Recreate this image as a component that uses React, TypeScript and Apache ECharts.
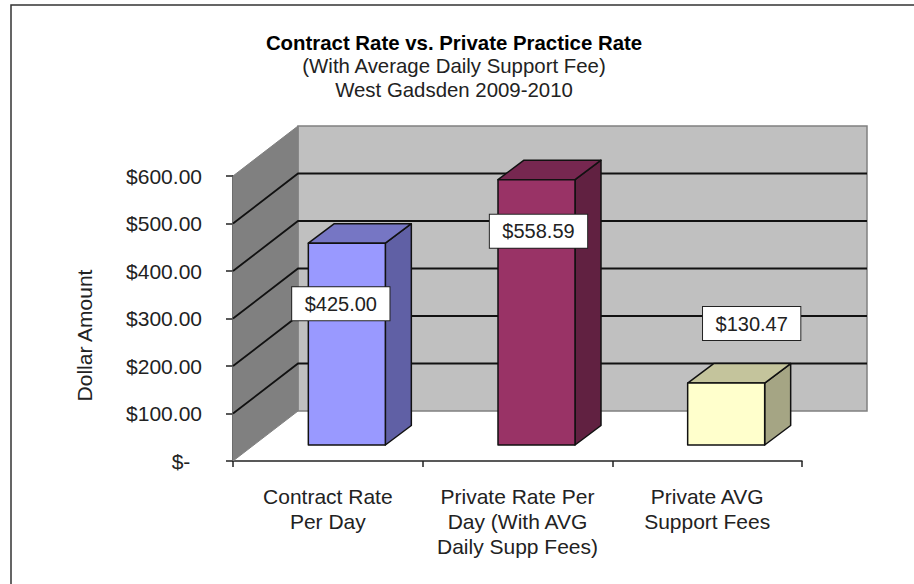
import React, { useEffect, useRef } from "react";
import * as echarts from "echarts";

const categories = ["Contract Rate\nPer Day", "Private Rate Per\nDay (With AVG\nDaily Supp Fees)", "Private AVG\nSupport Fees"];
const values = [425.0, 558.59, 130.47];
const levels = [0, 100, 200, 300, 400, 500, 600];
const titleLines = ["Contract Rate vs. Private Practice Rate", "(With Average Daily Support Fee)", "West Gadsden 2009-2010"];
const yName = "Dollar Amount";

const frontFill = ["#9999FF", "#993366", "#FFFFCC"];
const sideFill = ["#6060A5", "#612141", "#A5A584"];
const topFill = ["#7676C4", "#762750", "#C4C49C"];
const labelShift = [[-6, 44.5], [2, 35.5], [25.5, -75.5]];

const DEPTH_X = 65;
const DEPTH_Y = -50;
const BAR_DX = 19;
const BAR_DY = -16;
const BAR_W = 77;
const BAR_SIDE_X = 26;
const BAR_SIDE_Y = -19.5;

const fmt = (v: number) => (v === 0 ? "$-  " : "$" + v.toFixed(2));

export default function App() {
  const ref = useRef<HTMLDivElement>(null);
  useEffect(() => {
    const chart = echarts.init(ref.current!, null, { renderer: "svg" });
    chart.setOption({
      animation: false,
      backgroundColor: "#fff",
      textStyle: { fontFamily: "Liberation Sans" },
      title: {
        left: 449,
        top: 26,
        textAlign: "center",
        text: `{a|${titleLines[0]}}\n{b|${titleLines[1]}}\n{b|${titleLines[2]}}`,
        textStyle: {
          fontWeight: "normal",
          rich: {
            a: { fontFamily: "Liberation Sans", fontSize: 20.4, fontWeight: "bold", color: "#000", lineHeight: 23, align: "center" },
            b: { fontFamily: "Liberation Sans", fontSize: 20.4, fontWeight: "normal", color: "#222", lineHeight: 24, align: "center" },
          },
        },
      },
      graphic: [
        { type: "rect", z: -1, shape: { x: 11, y: 5, width: 930, height: 600 }, style: { fill: "none", stroke: "#333", lineWidth: 1.5 } },
      ],
      grid: { left: 233, right: 112, top: 176, bottom: 123, containLabel: false },
      xAxis: {
        type: "category",
        data: categories,
        axisLine: { lineStyle: { color: "#222", width: 1.5 } },
        axisTick: { show: true, length: 6, lineStyle: { color: "#222", width: 1.5 } },
        axisLabel: { color: "#222", fontSize: 21, lineHeight: 25, margin: 23, interval: 0, fontFamily: "Liberation Sans" },
      },
      yAxis: {
        type: "value",
        min: 0,
        max: 600,
        interval: 100,
        name: yName,
        nameLocation: "middle",
        nameRotate: 90,
        nameGap: 138,
        nameTextStyle: { color: "#222", fontSize: 21, fontFamily: "Liberation Sans", padding: [0, 34, 0, 0] },
        axisLine: { show: true, lineStyle: { color: "#222", width: 1.5 } },
        axisTick: { show: true, length: 7, lineStyle: { color: "#222", width: 1.5 } },
        axisLabel: { color: "#222", fontSize: 21, margin: 31, formatter: fmt, fontFamily: "Liberation Sans" },
        splitLine: { show: false },
      },
      series: [
        {
          type: "custom",
          z: 1,
          coordinateSystem: "cartesian2d",
          data: [[0, 0]],
          silent: true,
          renderItem: (p: any, api: any) => {
            const cs = p.coordSys;
            const xL = cs.x;
            const xR = cs.x + cs.width;
            const y0 = api.coord([0, 0])[1];
            const y6 = api.coord([0, 600])[1];
            const children: any[] = [
              { type: "polygon", shape: { points: [[xL + DEPTH_X, y0 + DEPTH_Y], [xR + DEPTH_X, y0 + DEPTH_Y], [xR + DEPTH_X, y6 + DEPTH_Y], [xL + DEPTH_X, y6 + DEPTH_Y]] }, style: { fill: "#C0C0C0", stroke: "#808080", lineWidth: 1.5 } },
              { type: "polygon", shape: { points: [[xL, y0], [xL + DEPTH_X, y0 + DEPTH_Y], [xL + DEPTH_X, y6 + DEPTH_Y], [xL, y6]] }, style: { fill: "#808080", stroke: "#808080", lineWidth: 1 } },
            ];
            levels.slice(1, -1).forEach((v) => {
              const y = api.coord([0, v])[1];
              children.push({ type: "polyline", shape: { points: [[xL, y], [xL + DEPTH_X, y + DEPTH_Y], [xR + DEPTH_X, y + DEPTH_Y]] }, style: { fill: "none", stroke: "#111", lineWidth: 1.8 } });
            });
            return { type: "group", children };
          },
        },
        {
          type: "custom",
          z: 2,
          coordinateSystem: "cartesian2d",
          data: values.map((v, i) => [i, v]),
          silent: true,
          renderItem: (_p: any, api: any) => {
            const i = api.value(0);
            const [cx, yTop0] = api.coord([i, api.value(1)]);
            const yBase0 = api.coord([i, 0])[1];
            const l = cx + BAR_DX - BAR_W / 2;
            const r = l + BAR_W;
            const t = yTop0 + BAR_DY;
            const b = yBase0 + BAR_DY;
            const edge = { stroke: "#111", lineWidth: 1.5, lineJoin: "round" };
            return {
              type: "group",
              children: [
                { type: "polygon", shape: { points: [[r, b], [r + BAR_SIDE_X, b + BAR_SIDE_Y], [r + BAR_SIDE_X, t + BAR_SIDE_Y], [r, t]] }, style: { fill: sideFill[i], ...edge } },
                { type: "polygon", shape: { points: [[l, t], [l + BAR_SIDE_X, t + BAR_SIDE_Y], [r + BAR_SIDE_X, t + BAR_SIDE_Y], [r, t]] }, style: { fill: topFill[i], ...edge } },
                { type: "rect", shape: { x: l, y: t, width: BAR_W, height: b - t }, style: { fill: frontFill[i], ...edge } },
              ],
            };
          },
        },
        {
          type: "custom",
          z: 3,
          coordinateSystem: "cartesian2d",
          data: values.map((v, i) => [i, v]),
          silent: true,
          renderItem: (_p: any, api: any) => {
            const i = api.value(0);
            const [cx, y] = api.coord([i, api.value(1)]);
            return {
              type: "text",
              x: cx + BAR_DX + labelShift[i][0],
              y: y + labelShift[i][1],
              style: {
                text: "$" + api.value(1).toFixed(2),
                fontFamily: "Liberation Sans",
                fontSize: 20,
                fill: "#222",
                align: "center",
                verticalAlign: "middle",
                backgroundColor: "#fff",
                borderColor: "#222",
                borderWidth: 1,
                padding: [7, 12.5, 6, 12.5],
              },
            };
          },
        },
      ],
    });
    return () => chart.dispose();
  }, []);
  return <div ref={ref} style={{ position: "fixed", left: 0, top: 0, width: 914, height: 584 }} />;
}
